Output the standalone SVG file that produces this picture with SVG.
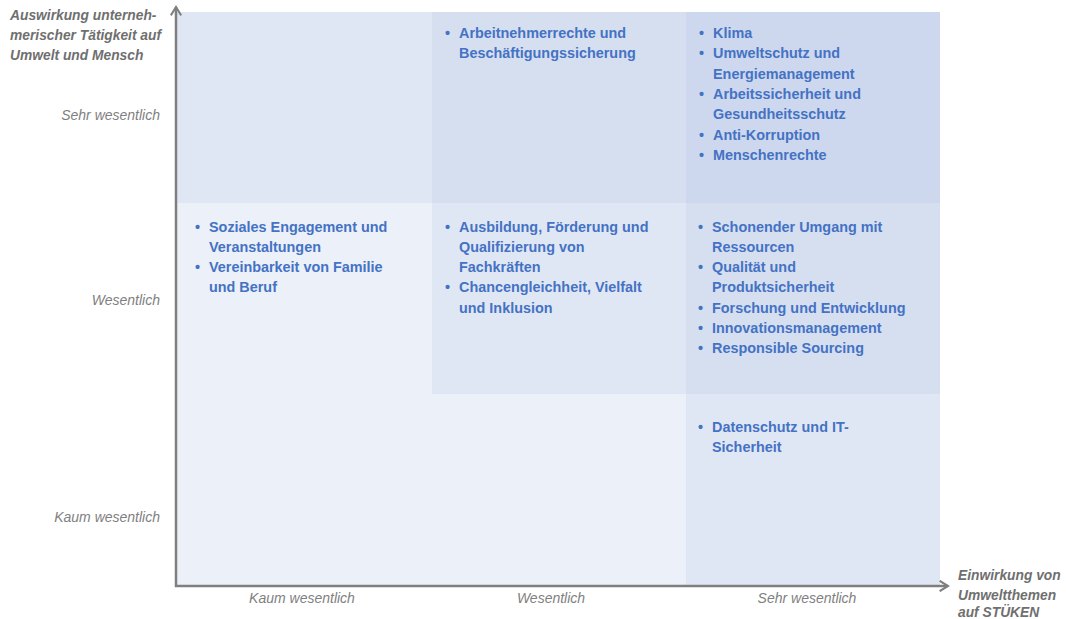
<svg xmlns="http://www.w3.org/2000/svg" width="1066" height="619" viewBox="0 0 1066 619">
<style>
.item{font-family:"Liberation Sans",Arial,sans-serif;font-weight:bold;font-size:14.4px;fill:#4472C4}
.lbl{font-family:"Liberation Sans",Arial,sans-serif;font-style:italic;font-size:14px;fill:#7F7F7F}
.ttl{font-family:"Liberation Sans",Arial,sans-serif;font-style:italic;font-weight:bold;font-size:13.8px;fill:#6F6F6F}
.axis{stroke:#7F7F7F;stroke-width:2.5;fill:none}
</style>
<defs>
<marker id="arr" viewBox="0 0 12 12" refX="10" refY="6" markerWidth="5" markerHeight="5" orient="auto" markerUnits="strokeWidth">
<polyline points="2,1 10,6 2,11" fill="none" stroke="#7F7F7F" stroke-width="2"/>
</marker>
</defs>
<rect width="1066" height="619" fill="#FFFFFF"/>
<g id="cells">
<rect x="177" y="12" width="255" height="191" fill="#E0E7F4"/>
<rect x="432" y="12" width="254" height="191" fill="#D6DFF0"/>
<rect x="686" y="12" width="254" height="191" fill="#CDD8EE"/>
<rect x="177" y="203" width="255" height="191" fill="#EBF0F9"/>
<rect x="432" y="203" width="254" height="191" fill="#E0E7F4"/>
<rect x="686" y="203" width="254" height="191" fill="#D6DFF0"/>
<rect x="177" y="394" width="509" height="192" fill="#EBF0F9"/>
<rect x="686" y="394" width="254" height="192" fill="#E0E7F4"/>
</g>
<g id="cell-top-mid" class="item">
<text x="445" y="38">•</text><text x="459" y="38">Arbeitnehmerrechte und</text>
<text x="459" y="58">Beschäftigungssicherung</text>
</g>
<g id="cell-top-right" class="item">
<text x="699" y="38">•</text><text x="713" y="38">Klima</text>
<text x="699" y="58">•</text><text x="713" y="58">Umweltschutz und</text>
<text x="713" y="79">Energiemanagement</text>
<text x="699" y="99">•</text><text x="713" y="99">Arbeitssicherheit und</text>
<text x="713" y="119">Gesundheitsschutz</text>
<text x="699" y="140">•</text><text x="713" y="140">Anti-Korruption</text>
<text x="699" y="160">•</text><text x="713" y="160">Menschenrechte</text>
</g>
<g id="cell-mid-left" class="item">
<text x="195" y="232">•</text><text x="209" y="232">Soziales Engagement und</text>
<text x="209" y="252">Veranstaltungen</text>
<text x="195" y="272">•</text><text x="209" y="272">Vereinbarkeit von Familie</text>
<text x="209" y="292">und Beruf</text>
</g>
<g id="cell-mid-mid" class="item">
<text x="445" y="232">•</text><text x="459" y="232">Ausbildung, Förderung und</text>
<text x="459" y="252">Qualifizierung von</text>
<text x="459" y="272">Fachkräften</text>
<text x="445" y="292">•</text><text x="459" y="292">Chancengleichheit, Vielfalt</text>
<text x="459" y="313">und Inklusion</text>
</g>
<g id="cell-mid-right" class="item">
<text x="698" y="232">•</text><text x="712" y="232">Schonender Umgang mit</text>
<text x="712" y="252">Ressourcen</text>
<text x="698" y="272">•</text><text x="712" y="272">Qualität und</text>
<text x="712" y="292">Produktsicherheit</text>
<text x="698" y="313">•</text><text x="712" y="313">Forschung und Entwicklung</text>
<text x="698" y="333">•</text><text x="712" y="333">Innovationsmanagement</text>
<text x="698" y="353">•</text><text x="712" y="353">Responsible Sourcing</text>
</g>
<g id="cell-bot-right" class="item">
<text x="698" y="432">•</text><text x="712" y="432">Datenschutz und IT-</text>
<text x="712" y="452">Sicherheit</text>
</g>
<g id="connectors">
<line class="axis" x1="176" y1="587" x2="176" y2="7" marker-end="url(#arr)"/>
<line class="axis" x1="175" y1="586" x2="948" y2="586" marker-end="url(#arr)"/>
</g>
<g id="y-labels" class="lbl" text-anchor="end">
<text x="160" y="120">Sehr wesentlich</text>
<text x="160" y="305">Wesentlich</text>
<text x="160" y="522">Kaum wesentlich</text>
</g>
<g id="x-labels" class="lbl" text-anchor="middle">
<text x="302" y="603">Kaum wesentlich</text>
<text x="551" y="603">Wesentlich</text>
<text x="807" y="603">Sehr wesentlich</text>
</g>
<g id="y-title" class="ttl">
<text x="10" y="20">Auswirkung unterneh-</text>
<text x="10" y="40">merischer Tätigkeit auf</text>
<text x="10" y="60">Umwelt und Mensch</text>
</g>
<g id="x-title" class="ttl">
<text x="958" y="580">Einwirkung von</text>
<text x="958" y="600">Umweltthemen</text>
<text x="958" y="617">auf STÜKEN</text>
</g>
</svg>
